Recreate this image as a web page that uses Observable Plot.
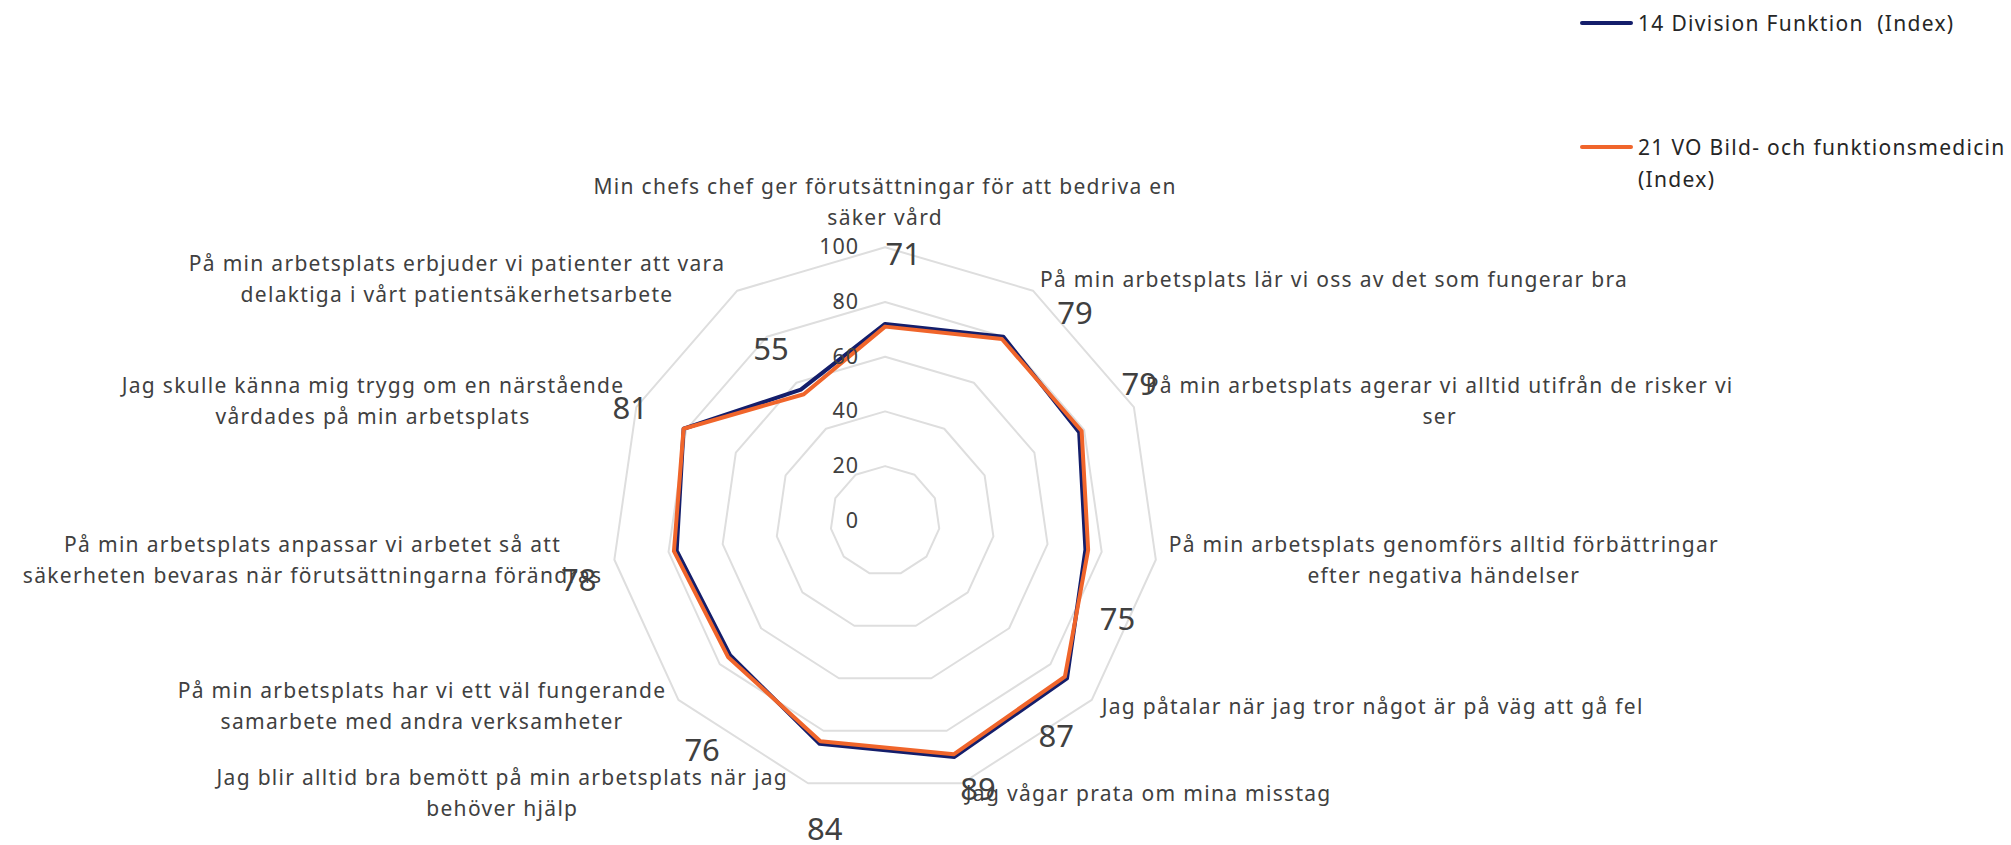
<!DOCTYPE html>
<html>
<head>
<meta charset="utf-8">
<script src="https://cdn.jsdelivr.net/npm/d3@7"></script>
<script src="https://cdn.jsdelivr.net/npm/@observablehq/plot@0.6"></script>
<style>
  html, body { margin: 0; padding: 0; background: #fff; }
  #wrap { position: relative; width: 2011px; height: 845px; overflow: hidden; }
  #legend { position: absolute; left: 1580px; top: 0; font-family: "Noto Sans", sans-serif; font-size: 21px; letter-spacing: 1.3px; color: #262626; }
  .sw { position: absolute; left: 0; width: 53px; height: 4px; border-radius: 2px; }
  .lt { position: absolute; left: 58px; line-height: 32px; white-space: pre; }
</style>
</head>
<body>
<div id="wrap">
  <div id="chart"></div>
  <div id="legend"></div>
</div>
<script>
// ---------- DATA ----------
const categories = [
  "Min chefs chef ger förutsättningar för att bedriva en\nsäker vård",
  "På min arbetsplats lär vi oss av det som fungerar bra",
  "På min arbetsplats agerar vi alltid utifrån de risker vi\nser",
  "På min arbetsplats genomförs alltid förbättringar\nefter negativa händelser",
  "Jag påtalar när jag tror något är på väg att gå fel",
  "Jag vågar prata om mina misstag",
  "Jag blir alltid bra bemött på min arbetsplats när jag\nbehöver hjälp",
  "På min arbetsplats har vi ett väl fungerande\nsamarbete med andra verksamheter",
  "På min arbetsplats anpassar vi arbetet så att\nsäkerheten bevaras när förutsättningarna förändras",
  "Jag skulle känna mig trygg om en närstående\nvårdades på min arbetsplats",
  "På min arbetsplats erbjuder vi patienter att vara\ndelaktiga i vårt patientsäkerhetsarbete"
];
const seriesNames = ["14 Division Funktion  (Index)", "21 VO Bild- och funktionsmedicin\n(Index)"];
const divisionValues = [72, 80, 78, 74, 88, 90, 85, 75, 77, 81, 57];
const voValues       = [71, 79, 79, 75, 87, 89, 84, 76, 78, 81, 55];
const dataLabels     = [71, 79, 79, 75, 87, 89, 84, 76, 78, 81, 55];
const gridLevels = [20, 40, 60, 80, 100];
const tickLabels = [0, 20, 40, 60, 80, 100];

// ---------- LAYOUT / STYLE ----------
const W = 2011, H = 845;
const CX = 884.6, CY = 520.3, PX_PER_UNIT = 2.735;
const colors = ["#141e6b", "#f0652b"];
const CAT_FONT = 21, CAT_SPACING = 1.3;
const TICK_FONT = 21.5, TICK_SPACING = 1;
// where Excel put the value labels: radius (index units) and angular nudge (deg)
const labelRadius = [97.5, 102.7, 105.3, 92.4, 100.7, 104.1, 115.2, 107.5, 114.1, 101.8, 75.1];
const labelNudge  = [3.9, 9.8, -3.5, 15, 10.7, -2.7, -5.3, -10.6, -2.9, -0.8, -1];

const N = categories.length;
const ang = i => i * 2 * Math.PI / N;
const px = (r, a) => r * Math.sin(a);
const py = (r, a) => r * Math.cos(a);

const ctx = document.createElement("canvas").getContext("2d");
ctx.font = `${CAT_FONT}px 'Noto Sans'`;
const blockWidth = s => Math.max(...s.split("\n").map(l => ctx.measureText(l).width + CAT_SPACING * l.length));

const rings = gridLevels.flatMap(level => categories.map((c, i) => ({level, x: px(level, ang(i)), y: py(level, ang(i))})));
const seriesData = [divisionValues, voValues].flatMap((vals, s) =>
  vals.map((v, i) => ({series: seriesNames[s], x: px(v, ang(i)), y: py(v, ang(i))})));
const ticks = tickLabels.map(t => ({x: 0, y: t, t: String(t)}));
const valueLabels = dataLabels.map((v, i) => {
  const a = ang(i) + labelNudge[i] * Math.PI / 180;
  return {x: px(labelRadius[i], a), y: py(labelRadius[i], a), t: String(v)};
});

const catMarks = categories.map((c, i) => {
  const a = ang(i);
  const dirX = Math.sin(a), dirY = -Math.cos(a);
  const w = blockWidth(c);
  const top = Math.abs(dirX) <= 0.1 && dirY < 0;
  let dx = 0;
  if (dirX > 0.1) dx = dirX * 13 + w / 2;
  else if (dirX < -0.1) dx = -(12 + (dirY > 0.9 ? 8 : 0)) - w / 2;
  return Plot.text([{x: px(100, a), y: py(100, a), t: c}], {
    x: "x", y: "y", text: "t",
    textAnchor: "middle", lineAnchor: top ? "bottom" : "middle",
    dx, dy: top ? -22 : dirY * 12 - 4,
    fontSize: CAT_FONT, lineHeight: 1.48, fill: "#404040"
  });
});

const chart = Plot.plot({
  width: W, height: H,
  margin: 0,
  x: {domain: [-CX / PX_PER_UNIT, (W - CX) / PX_PER_UNIT], range: [0, W], axis: null},
  y: {domain: [-(H - CY) / PX_PER_UNIT, CY / PX_PER_UNIT], range: [H, 0], axis: null},
  color: {domain: seriesNames, range: colors},
  style: {fontFamily: "'Noto Sans', sans-serif", background: "#fff"},
  marks: [
    Plot.line(rings, {x: "x", y: "y", z: "level", curve: "linear-closed", stroke: "#dedede", strokeWidth: 2}),
    Plot.line(seriesData, {x: "x", y: "y", z: "series", stroke: "series", curve: "linear-closed", strokeWidth: 4, strokeLinejoin: "round"}),
    Plot.text(ticks, {x: "x", y: "y", text: "t", textAnchor: "end", dx: -26, fontSize: TICK_FONT, fill: "#404040"}),
    ...catMarks,
    Plot.text(valueLabels, {x: "x", y: "y", text: "t", fontSize: 31, fill: "#404040"})
  ]
});
document.getElementById("chart").appendChild(chart);
d3.select(chart).selectAll(`g[font-size='${CAT_FONT}']`).attr("letter-spacing", CAT_SPACING);
d3.select(chart).selectAll(`g[font-size='${TICK_FONT}']`).attr("letter-spacing", TICK_SPACING);

// legend
const legend = document.getElementById("legend");
const legendCenters = [23, 147];
seriesNames.forEach((name, s) => {
  const sw = document.createElement("div");
  sw.className = "sw";
  sw.style.top = (legendCenters[s] - 2) + "px";
  sw.style.background = colors[s];
  legend.appendChild(sw);
  const t = document.createElement("div");
  t.className = "lt";
  t.style.top = (legendCenters[s] - 16) + "px";
  t.textContent = name;
  legend.appendChild(t);
});
</script>
</body>
</html>
